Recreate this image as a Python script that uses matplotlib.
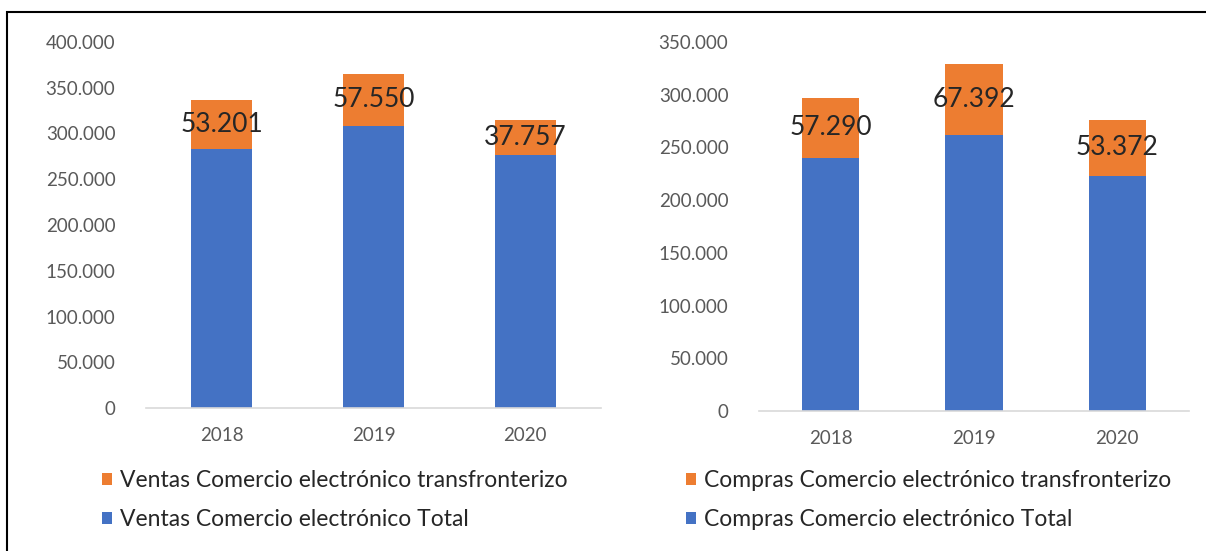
import matplotlib.pyplot as plt
import numpy as np
from matplotlib.patches import Rectangle

years = ["2018", "2019", "2020"]

ventas_total = [283000, 308000, 276500]
ventas_transf = [53201, 57550, 37757]

compras_total = [240000, 262000, 223000]
compras_transf = [57290, 67392, 53372]

left_ticks = [0, 50000, 100000, 150000, 200000, 250000, 300000, 350000, 400000]
right_ticks = [0, 50000, 100000, 150000, 200000, 250000, 300000, 350000]

blue = "#4472C4"
orange = "#ED7D31"
grey_text = "#595959"

plt.rcParams["font.family"] = ["Lato", "DejaVu Sans"]


def fmt(v):
    return f"{v:,}".replace(",", ".")


def draw(ax, total, transf, ticks, names):
    x = np.arange(len(years))
    b1 = ax.bar(x, transf, 0.4, bottom=total, color=orange, label=names[0])
    b0 = ax.bar(x, total, 0.4, color=blue, label=names[1])
    for xi, t, v in zip(x, total, transf):
        ax.text(xi, t + v / 2, fmt(v), ha="center", va="center", fontsize=19, color="#262626")
    ax.set_xlim(-0.5, 2.5)
    ax.set_ylim(0, ticks[-1])
    ax.set_yticks(ticks)
    ax.set_yticklabels([fmt(t) for t in ticks])
    ax.set_xticks(x)
    ax.set_xticklabels(years)
    ax.tick_params(axis="both", length=0, labelsize=13.5, colors=grey_text)
    ax.tick_params(axis="y", pad=22)
    ax.tick_params(axis="x", pad=14)
    for s in ["top", "right", "left"]:
        ax.spines[s].set_visible(False)
    ax.spines["bottom"].set_color("#D9D9D9")
    ax.spines["bottom"].set_linewidth(1.2)
    return b1, b0


def legend(handles, x0):
    fig.legend(handles, [a.get_label() for a in handles], loc="upper left",
               bbox_to_anchor=(x0 / 1206, 1 - 470 / 551), frameon=False, fontsize=16.5,
               handlelength=0.45, handleheight=0.45, handletextpad=0.35, labelspacing=0.78,
               borderaxespad=0, borderpad=0, labelcolor="#262626")


fig = plt.figure(figsize=(12.06, 5.51), dpi=100)

ax1 = fig.add_axes([146 / 1206, 1 - 408 / 551, 455 / 1206, 366 / 551])
h = draw(ax1, ventas_total, ventas_transf, left_ticks,
         ["Ventas Comercio electrónico transfronterizo", "Ventas Comercio electrónico Total"])
legend(h, 102)

ax2 = fig.add_axes([759 / 1206, 1 - 411 / 551, 430 / 1206, 369 / 551])
h = draw(ax2, compras_total, compras_transf, right_ticks,
         ["Compras Comercio electrónico transfronterizo", "Compras Comercio electrónico Total"])
legend(h, 686)

# outer frame, only left and top edges are inside the picture
fig.add_artist(Rectangle((7 / 1206, -0.1), 1.2, 1.1 - 12 / 551, transform=fig.transFigure,
                         fill=False, edgecolor="black", linewidth=1.5))

fig.savefig("out.png", dpi=100)
